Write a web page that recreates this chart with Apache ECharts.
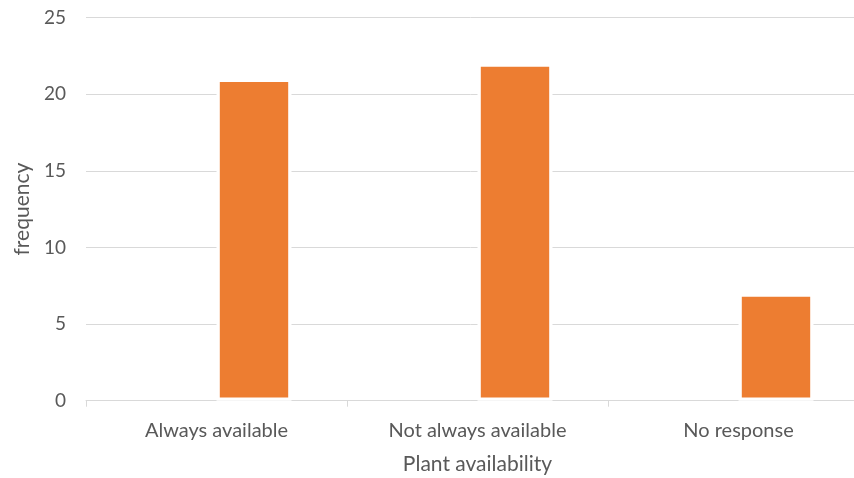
<!DOCTYPE html>
<html>
<head>
<meta charset="utf-8">
<script src="https://cdn.jsdelivr.net/npm/echarts@6/dist/echarts.min.js"></script>
<style>html,body{margin:0;padding:0;background:#fff;}#c{width:854px;height:478px;}</style>
</head>
<body>
<div id="c"></div>
<script>
const categories = ['Always available', 'Not always available', 'No response'];
const emptySeries = [null, null, null];
const frequency = [21, 22, 7];
const yTicks = [0, 5, 10, 15, 20, 25];

const FONT = 'Lato';
const chart = echarts.init(document.getElementById('c'), null, {renderer: 'canvas'});
chart.setOption({
  animation: false,
  backgroundColor: '#ffffff',
  textStyle: {fontFamily: FONT},
  grid: {left: 86, right: -15, top: 17.5, bottom: 77.3, containLabel: false, outerBoundsMode: 'none'},
  xAxis: {
    type: 'category',
    data: categories,
    name: 'Plant availability',
    nameLocation: 'middle',
    nameGap: 53,
    nameTextStyle: {fontFamily: FONT, fontSize: 21, color: '#595959'},
    axisLine: {show: true, lineStyle: {color: '#d9d9d9', width: 1}},
    axisTick: {show: true, length: 6, lineStyle: {color: '#d9d9d9'}},
    axisLabel: {fontFamily: FONT, fontSize: 20, color: '#595959', margin: 20},
    splitLine: {show: false}
  },
  yAxis: {
    type: 'value',
    min: yTicks[0],
    max: yTicks[yTicks.length - 1],
    interval: 5,
    name: 'frequency',
    nameLocation: 'middle',
    nameGap: 51,
    nameRotate: 90,
    nameTextStyle: {fontFamily: FONT, fontSize: 21, color: '#595959'},
    axisLine: {show: false},
    axisTick: {show: false},
    axisLabel: {fontFamily: FONT, fontSize: 19, color: '#595959', margin: 20},
    splitLine: {show: true, lineStyle: {color: '#d9d9d9', width: 1}}
  },
  series: [
    {
      type: 'bar',
      data: emptySeries,
      barWidth: 75,
      barGap: '0%',
      itemStyle: {color: '#4472c4'}
    },
    {
      type: 'bar',
      data: frequency,
      barWidth: 75,
      barGap: '0%',
      itemStyle: {color: '#ed7d31', borderColor: '#ffffff', borderWidth: 3.3}
    }
  ]
});
</script>
</body>
</html>
